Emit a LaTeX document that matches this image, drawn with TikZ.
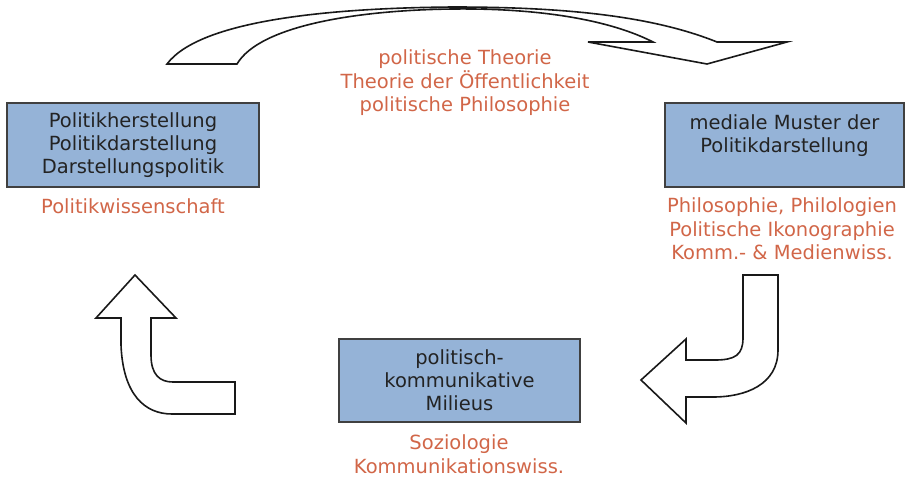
\documentclass[tikz,border=0pt]{standalone}
\usepackage{fontspec}
\setmainfont{DejaVu Sans}
\usepackage{xcolor}
\definecolor{kastenblau}{RGB}{149,179,215}
\definecolor{fachrot}{RGB}{209,102,72}
\definecolor{schrift}{RGB}{35,35,35}

\begin{document}
\begin{tikzpicture}[x=1pt,y=-1pt,
    kasten/.style={draw=black!75, line width=1.2pt, fill=kastenblau,
      text=schrift, align=center, inner sep=0pt,
      font=\fontsize{19.5}{23}\selectfont},
    fach/.style={text=fachrot, align=center, inner sep=0pt,
      font=\fontsize{19.5}{23.5}\selectfont},
    pfeil/.style={draw=black!90, line width=1.6pt, fill=white, line join=miter}]
  \useasboundingbox (0,0) rectangle (906,477);
  % the three boxes
  \node[kasten, minimum width=252pt, minimum height=84pt] (herst) at (133,145)
    {Politikherstellung\\Politikdarstellung\\Darstellungspolitik};
  \node[kasten, minimum width=239pt, minimum height=84pt] (medial) at (784.5,145)
    {mediale Muster der\\Politikdarstellung\\\mbox{}};
  \node[kasten, minimum width=241pt, minimum height=83pt] (milieu) at (459.5,380.5)
    {politisch-\\kommunikative\\Milieus};
  % disciplines
  \node[fach] (pw) at (133,206) {Politikwissenschaft};
  \node[fach] (phil) at (782,229)
    {Philosophie, Philologien\\Politische Ikonographie\\Komm.- \& Medienwiss.};
  \node[fach] (soz) at (459,454) {Soziologie\\Kommunikationswiss.};
  \node[fach] (theo) at (465,83)
    {politische Theorie\\Theorie der Öffentlichkeit\\politische Philosophie};
  % upper arrow, bent over the top
  \draw[pfeil] (167,64) .. controls (200,20) and (330,8) .. (453,7)
    .. controls (560,7) and (650,15) .. (717,42) -- (787,42) -- (707,64)
    -- (588,42) -- (653,42) .. controls (610,20) and (540,8) .. (453,9)
    .. controls (360,10) and (260,25) .. (237,64) -- cycle;
  % right arrow, going down and to the left
  \draw[pfeil] (743,275) -- (778,275) -- (778,350)
    .. controls (778,385) and (745,397) .. (713,397) -- (686,397)
    -- (686,423) -- (641,380) -- (686,339) -- (686,360) -- (715,360)
    .. controls (735,360) and (743,355) .. (743,338) -- cycle;
  % left arrow, going up
  \draw[pfeil] (135,275) -- (176,318) -- (151,318) -- (151,355)
    .. controls (151,375) and (160,382) .. (173,382) -- (235,382)
    -- (235,414) -- (172,414) .. controls (145,414) and (123,395) .. (121,345)
    -- (121,318) -- (96,318) -- cycle;
\end{tikzpicture}
\end{document}
